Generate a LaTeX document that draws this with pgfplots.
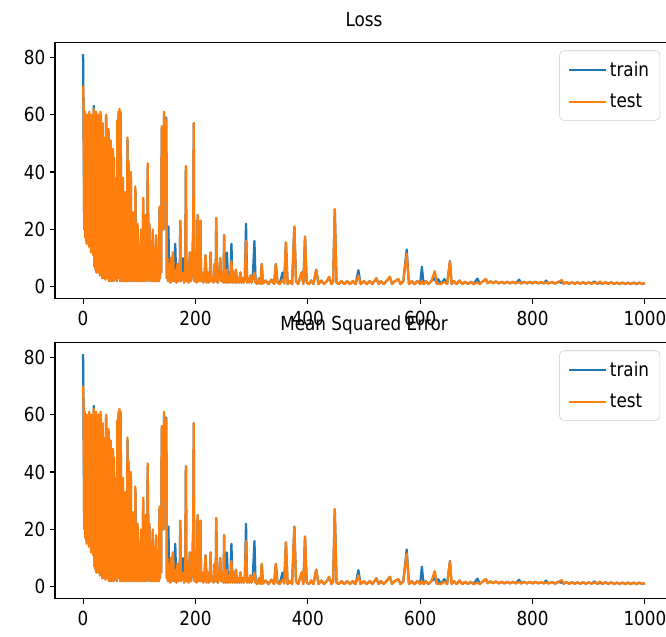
\documentclass[border=0pt]{standalone}
\usepackage{pgfplots}
\usepackage{pgfplotstable}
\pgfplotsset{compat=1.18}
\usepackage{fontspec}
\setmainfont[FakeStretch=0.87]{DejaVu Sans}
\definecolor{mblue}{HTML}{1F77B4}
\definecolor{morange}{HTML}{FF7F0E}
\pgfplotstableread{
x tr te
0 81 70
1 50 62
2 22 20
3 60 61
4 18 17
5 59 60
6 16 15
7 57 58
8 22 21
9 60 60
10 15 14
11 60 61
12 24 25
13 58 59
14 13 12
15 59 60
16 17 18
17 54 55
18 12 11
19 63 62
20 8 7
21 59 60
22 6 6
23 60 61
24 5 5
25 57 58
26 8 8
27 59 60
28 5 5
29 49 50
30 4 4
31 60 61
32 6 7
33 44 45
34 3 3
35 56 57
36 5 5
37 39 40
38 3 3
39 51 52
40 3 2.5
41 59 60
42 4 4
43 34 35
44 3 3
45 54 55
46 2 2
47 29 30
48 4 4
49 50 51
50 2 2
51 24 25
52 3 3
53 47 48
54 2 2
55 44 45
56 3 3
57 19 20
58 2.5 2.5
59 37 38
60 2 2
61 57 58
62 3 3
63 60 61
64 4 4
65 61 62
66 2 2
67 59 61
68 3 3
69 29 30
70 2 2
71 37 38
72 3 3
73 21 22
74 2 2
75 32 33
76 4 4
77 14 15
78 2 2
79 51 52
80 3 3
81 43 44
82 2 2
83 27 28
84 3 3
85 39 40
86 2 2
87 17 18
88 3 3
89 25 26
90 2 2
91 19 20
92 3 3
93 34 35
94 2 2
95 11 12
96 3 3
97 21 22
98 2 2
99 14 15
100 3 3
101 15 11
102 2 2
103 19 20
104 3 3
105 11 12
106 2 2
107 30 31
108 4 4
109 17 18
110 2 2
111 24 25
112 3 3
113 13 14
114 2 2
115 42 43
116 19 20
117 3 3
118 21 22
119 2 2
120 15 16
121 3 3
122 11 12
123 2 2
124 19 20
125 3 3
126 13 14
127 2 2
128 9 10
129 3 3
130 17 18
131 2 2
132 7 8
133 3 3
134 12 13
135 2 2
136 27 28
137 3 3
138 27 28
139 5 5
140 55 56
141 34 35
142 51 52
143 20 20
144 60 61
145 39 40
146 58 59
147 30 30
148 59 58
149 3 3
150 10 10
151 2 2
152 21 8
153 2 2
154 5 5
155 1.5 1.5
156 10 10
158 2 2
160 12 12
162 2 2
164 15 6
166 1.5 1.5
168 8 8
170 2 2
172 4 4
173 23 23
174 2 2
176 3 3
178 10 5
180 1.5 1.5
182 8 8
183 42 42
184 2 2
186 6 6
188 1.5 1.5
190 12 12
192 2 2
194 5 5
196 20 20
197 57 57
198 2 2
200 8 8
202 1.5 1.5
204 25 25
206 2 2
208 10 10
209 23 23
210 2 2
212 5 5
214 1.5 1.5
216 4 4
218 11 11
220 1.5 1.5
222 5 5
224 1.5 1.5
226 6 6
227 12 12
228 2 2
230 3 3
232 1.5 1.5
234 8 8
236 2 2
237 24 24
238 2 2
240 1.5 1.5
242 4 4
244 10 10
246 2 2
248 5 5
250 1.5 1.5
251 18 18
252 2 2
254 1.5 1.5
256 12 6
258 1.5 1.5
260 4 4
262 1.5 1.5
264 15 9
266 1.5 1.5
268 5 5
270 1.5 1.5
272 6 6
274 1.5 1.5
276 3 3
278 1.5 1.5
280 5 5
282 1.5 1.5
284 3 3
286 1.5 1.5
288 4 4
290 22 16
292 1.5 1.5
294 3 3
296 1.5 1.5
298 4 4
300 1.5 1.5
302 3 3
305 16 5
307 1.5 1.5
310 1 1
313 3 3
316 1 1
318 8 8
320 1.2 1.2
325 2.2 2.2
330 1 1
335 2.5 2.5
340 1 1
343 8 8
346 1.5 1.5
350 1 1
355 5 2.5
358 1.2 1.2
361 15.5 15.5
364 1 1
368 2 2
372 1 1
376 21 21
379 2 2
383 1 1
386 3 3
389 5 5
392 1 1
395 17.5 17.5
398 1.5 1.5
402 1 1
406 2.2 2.2
410 1 1
415 6 6
419 1 1
424 2.2 2.2
429 1 1
434 2 2
438 3.5 3.5
442 1 1
445 1.8 1.8
448 27 27
451 1.5 1.5
455 1 1
460 2 2
465 1 1
470 2 2
475 1 1
480 2 2
485 1 1
490 5.8 4
494 1 1
500 2 2
505 1 1
510 2 2
515 1 1
522 3 3
526 1 1
530 2 2
535 1 1
540 2 2
546 3.5 3.5
550 1 1
555 2 2
561 2.7 2.7
565 1 1
570 2 2
576 13 11.6
580 1 1
585 2 2
590 1 1
595 2 2
600 1 1
603 7 2
606 1 1
610 2 2
615 1 1
620 2 2
626 3 5.5
630 1 1
632 2.7 1.2
637 1 1
643 2.7 1.8
648 1 1
653 9 8.8
656 1 1
660 2 2
665 1 1
670 2.2 2.2
675 1 1
680 1.8 1.8
685 1 1
690 1.8 1.8
695 1 1
702 2.9 1.5
706 1 1
710 1.7 1.7
717 2.7 2.7
720 1.3 1.3
725 1.9 1.9
730 1.3 1.3
735 1.9 1.9
740 1.2 1.2
745 1.8 1.8
750 1.2 1.2
755 1.8 1.8
760 1.2 1.2
765 1.8 1.8
770 1.2 1.2
776 2.5 1.7
780 1.2 1.2
785 1.8 1.8
790 1.2 1.2
795 1.8 1.8
800 1.2 1.2
805 1.8 1.8
810 1.2 1.2
815 1.7 1.7
820 1.2 1.2
824 2.2 1.6
828 1.2 1.2
835 1.7 1.7
840 1.1 1.1
845 1.7 1.7
852 1.5 2.4
856 1.1 1.1
860 1.7 1.7
865 1.1 1.1
870 1.6 1.6
875 1.1 1.1
880 1.6 1.6
885 1.1 1.1
890 1.6 1.6
895 1.1 1.1
900 1.6 1.6
905 1.1 1.1
910 1.9 1.5
915 1.1 1.1
920 1.4 1.9
925 1.1 1.1
930 1.6 1.6
935 1.0 1.0
940 1.6 1.6
945 1.0 1.0
950 1.5 1.5
955 1.0 1.0
960 1.5 1.5
965 1.0 1.0
970 1.5 1.5
975 1.0 1.0
980 1.5 1.5
985 1.0 1.0
990 1.5 1.5
995 1.0 1.0
1000 1.3 1.3
}\lossdata

\pgfplotsset{
  myax/.style={
    scale only axis,
    width=463.5pt, height=192pt,
    xmin=-50, xmax=1050, ymin=-4.05, ymax=85.05,
    xtick={0,200,400,600,800,1000},
    ytick={0,20,40,60,80},
    tick align=outside,
    xtick pos=bottom, ytick pos=left,
    major tick length=3.75pt,
    tick style={black, line width=0.8pt},
    axis line style={line width=0.8pt},
    font=\fontsize{14.5}{17}\selectfont,
    ticklabel style={font=\fontsize{14.5}{17}\selectfont},
    xticklabel style={yshift=-2pt},
    /pgf/number format/assume math mode=true,
    /pgf/number format/1000 sep={},
    title style={font=\fontsize{14.5}{17}\selectfont},
    legend style={at={(0.979,0.969)}, anchor=north east,
      draw=black!20, rounded corners=3pt, fill=white, fill opacity=0.8,
      text opacity=1, inner xsep=6pt, inner ysep=6pt,
      row sep=8pt, font=\fontsize{14.5}{17}\selectfont},
    legend cell align=left,
    legend image code/.code={\draw[##1] (0pt,0pt) -- (28pt,0pt);},
  },
  trainline/.style={color=mblue, line width=1.7pt, line join=round},
  testline/.style={color=morange, line width=1.7pt, line join=round},
}

\begin{document}
\begin{tikzpicture}
\path[use as bounding box] (0,0) rectangle (499.5pt,-477pt);
\begin{axis}[myax, at={(41.25pt,-31.9pt)}, anchor=north west, title={Loss},
  title style={yshift=2.5pt}]
\addplot[trainline] table[x=x,y=tr]{\lossdata};
\addlegendentry{train}
\addplot[testline] table[x=x,y=te]{\lossdata};
\addlegendentry{test}
\end{axis}
\begin{axis}[myax, at={(41.25pt,-256.9pt)}, anchor=north west, title={Mean Squared Error},
  title style={yshift=-3.5pt}]
\addplot[trainline] table[x=x,y=tr]{\lossdata};
\addlegendentry{train}
\addplot[testline] table[x=x,y=te]{\lossdata};
\addlegendentry{test}
\end{axis}
\end{tikzpicture}
\end{document}
